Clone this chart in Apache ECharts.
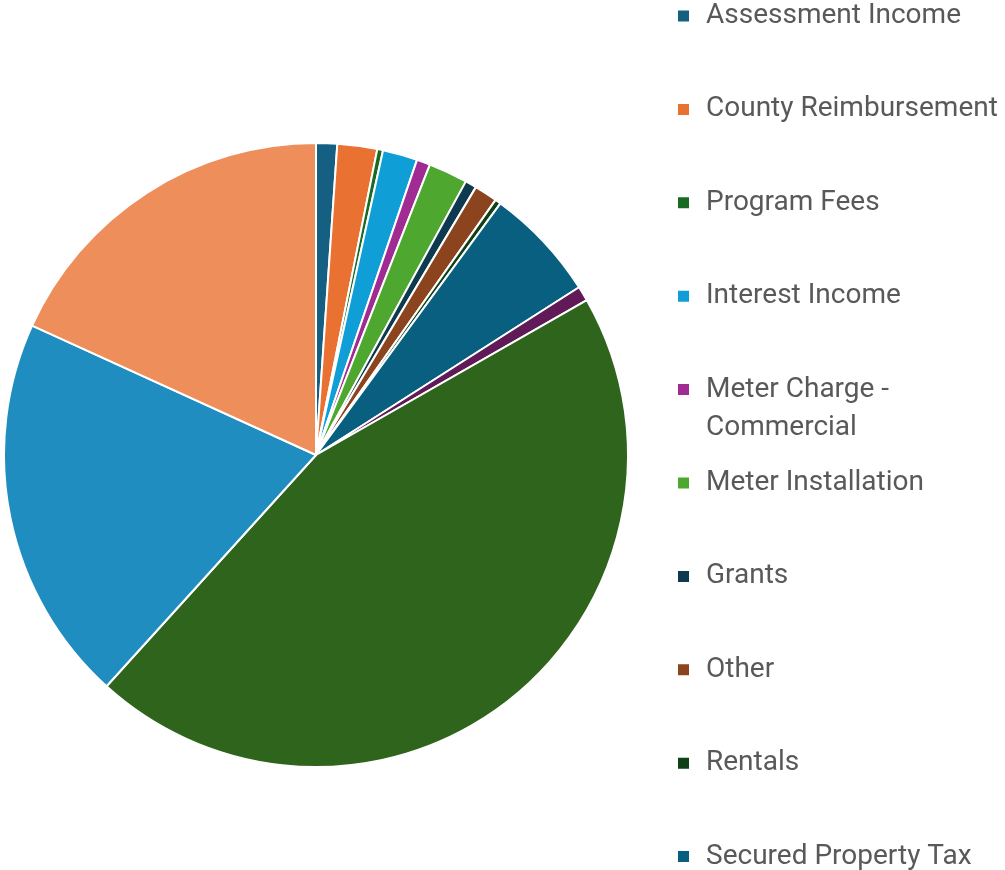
<!DOCTYPE html>
<html>
<head>
<meta charset="utf-8">
<title>Revenue by Source</title>
<script src="https://cdn.jsdelivr.net/npm/echarts@6/dist/echarts.min.js"></script>
<style>
  html, body { margin: 0; padding: 0; background: #ffffff; }
  #chart { width: 1005px; height: 870px; }
</style>
</head>
<body>
<div id="chart"></div>
<script>
// slice names in clockwise order from 12 o'clock (last four are cut off in the legend)
const categories = [
  'Assessment Income', 'County Reimbursement', 'Program Fees', 'Interest Income',
  'Meter Charge - Commercial', 'Meter Installation', 'Grants', 'Other', 'Rentals',
  'Secured Property Tax', 'Item 11', 'Item 12', 'Item 13', 'Item 14'
];
// share of total, %
const values = [1.09, 2.06, 0.3, 1.8, 0.7, 2.03, 0.59, 1.2, 0.3, 5.9, 0.77, 45.0, 20.1, 18.2];
const colors = [
  '#156082', '#E97132', '#196B24', '#0F9ED5', '#A02B93', '#4EA72E', '#0D3A4E',
  '#8C441E', '#0F4016', '#095F80', '#601A58', '#2F641C', '#1F8DC0', '#EE8E5B'
];

const textColor = '#595959';
const fontFamily = 'Roboto, "Noto Sans", sans-serif';
const rowStep = 93.4;
const firstRow = 16;   // centre of first legend row

const baseLegend = {
  orient: 'vertical',
  left: 676,
  padding: 0,
  height: 800,
  itemWidth: 13,
  itemHeight: 13,
  itemGap: rowStep - 30,
  icon: 'rect',
  selectedMode: false,
  textStyle: {
    color: textColor,
    fontFamily: fontFamily,
    fontSize: 28,
    lineHeight: 30,
    padding: [0, 0, 0, 11]
  }
};

const chart = echarts.init(document.getElementById('chart'), null, { renderer: 'canvas' });

chart.setOption({
  backgroundColor: '#ffffff',
  animation: false,
  color: colors,
  legend: [
    Object.assign({}, baseLegend, { top: firstRow - 15, data: categories.slice(0, 4) }),
    Object.assign({}, baseLegend, {
      // wrapped entry: blank first line keeps "Meter Charge -" level with the marker
      top: firstRow + 4 * rowStep - 1.5 * 38.5,
      data: [categories[4]],
      formatter: function () { return '\nMeter Charge -\nCommercial'; },
      textStyle: Object.assign({}, baseLegend.textStyle, {
        lineHeight: 38.5,
        padding: [0, 0, 0, 11]
      })
    }),
    Object.assign({}, baseLegend, { top: firstRow + 5 * rowStep - 15, data: categories.slice(5, 10) })
  ],
  series: [{
    type: 'pie',
    center: [316, 455],
    radius: 312,
    startAngle: 90,
    clockwise: true,
    label: { show: false },
    labelLine: { show: false },
    itemStyle: { borderColor: '#ffffff', borderWidth: 2 },
    emphasis: { disabled: true },
    data: categories.map((name, i) => ({ name: name, value: values[i] }))
  }]
});
</script>
</body>
</html>
